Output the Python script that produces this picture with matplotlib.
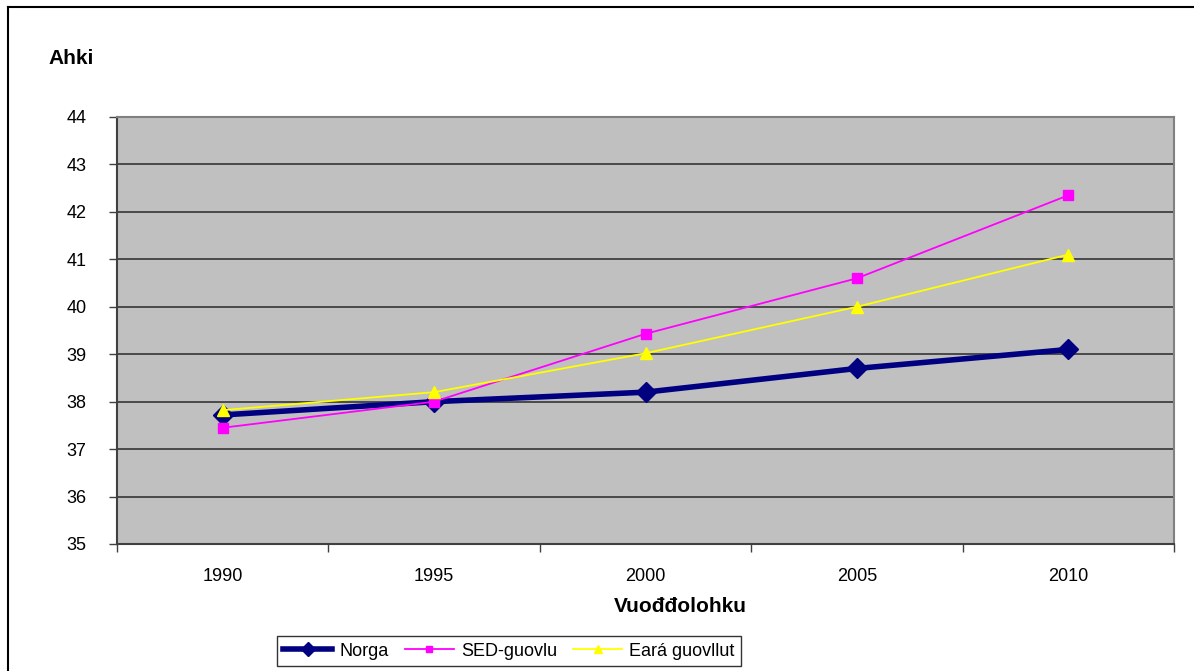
import matplotlib.pyplot as plt
from matplotlib.lines import Line2D

plt.rcParams['font.family'] = ['Liberation Sans', 'DejaVu Sans']

aar = ['1990', '1995', '2000', '2005', '2010']
norga = [37.72, 38.0, 38.2, 38.7, 39.1]
sed_guovlu = [37.45, 38.0, 39.43, 40.6, 42.35]
eara_guovllut = [37.82, 38.2, 39.02, 40.0, 41.1]

fig = plt.figure(figsize=(11.94, 6.71), dpi=100)
ax = fig.add_axes([117 / 1194, 1 - 544 / 671, (1174 - 117) / 1194, (544 - 117) / 671])
ax.set_facecolor('#C0C0C0')

x = range(len(aar))
ax.plot(x, norga, color='#000080', lw=4, marker='D', ms=10, label='Norga', zorder=3)
ax.plot(x, sed_guovlu, color='#FF00FF', lw=1.3, marker='s', ms=7, label='SED-guovlu', zorder=4)
ax.plot(x, eara_guovllut, color='#FFFF00', lw=1.3, marker='^', ms=9, label='Eará guovllut', zorder=5)

ax.set_xlim(-0.5, len(aar) - 0.5)
ax.set_ylim(35, 44)
ax.set_yticks(range(35, 45))
ax.yaxis.grid(True, color='#404040', lw=1.3)
ax.set_axisbelow(True)

ax.set_xticks(list(x))
ax.set_xticklabels(aar)
ax.set_xticks([i - 0.5 for i in range(len(aar) + 1)], minor=True)
ax.tick_params(axis='x', which='major', length=0, pad=17, labelsize=13)
ax.tick_params(axis='x', which='minor', length=6, color='#404040', width=1)
ax.tick_params(axis='y', length=6, color='#404040', width=1, labelsize=13, pad=16)

for s in ['left', 'bottom']:
    ax.spines[s].set_color('#404040')
    ax.spines[s].set_linewidth(1.5)
for s in ['top', 'right']:
    ax.spines[s].set_color('#808080')
    ax.spines[s].set_linewidth(1.5)

fig.text(48 / 1194, 1 - 59 / 671, 'Ahki', fontsize=15, fontweight='bold', va='center')
fig.text(680 / 1194, 1 - 606 / 671, 'Vuođđolohku', fontsize=15, fontweight='bold',
         ha='center', va='center')

leg = fig.legend(loc='center', bbox_to_anchor=(509 / 1194, 1 - 651 / 671), ncol=3,
                 frameon=True, fancybox=False, edgecolor='black', fontsize=13,
                 handlelength=2.7, borderpad=0.35, columnspacing=0.9, handletextpad=0.4,
                 markerscale=0.7)
leg.get_frame().set_linewidth(1)

# chart area frame (top and left edges visible)
fig.add_artist(Line2D([8 / 1194, 1], [1 - 7 / 671, 1 - 7 / 671], color='black', lw=1.5))
fig.add_artist(Line2D([8 / 1194, 8 / 1194], [0, 1 - 7 / 671], color='black', lw=1.5))

fig.savefig('out.png', dpi=100)
